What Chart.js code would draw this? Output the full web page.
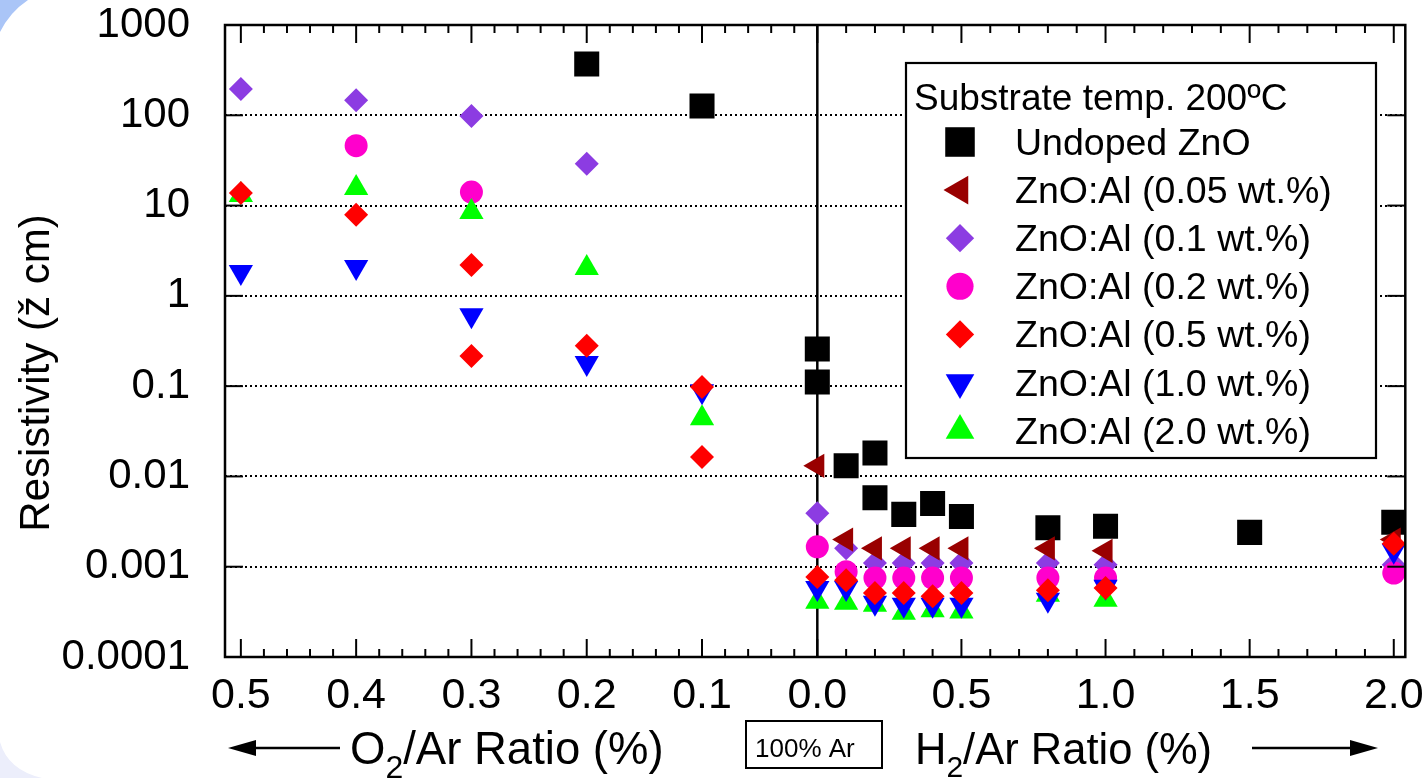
<!DOCTYPE html>
<html>
<head>
<meta charset="utf-8">
<title>Resistivity vs O2/H2 ratio</title>
<script src="https://cdn.jsdelivr.net/npm/chart.js@4.4.1/dist/chart.umd.min.js"></script>
<style>
  html, body { margin: 0; padding: 0; background: #fff; }
  #wrap { width: 1423px; height: 778px; }
</style>
</head>
<body>
<div id="wrap"><canvas id="chart" width="1423" height="778"></canvas></div>
<script>
var FONT = "'Liberation Sans', Arial, Helvetica, sans-serif";

// The O2 side runs leftwards from 0 and is drawn 4x wider than the H2 side
var O2_STRETCH = 4;
function o2Pos(r) { return -O2_STRETCH * r; }
function h2Pos(r) { return r; }

// axis ticks
var o2TickLabels = [0.5, 0.4, 0.3, 0.2, 0.1];
var h2TickLabels = [0.0, 0.5, 1.0, 1.5, 2.0];
var o2MinorStep = 0.02;
var h2MinorStep = 0.1;
var yTickValues = [0.0001, 0.001, 0.01, 0.1, 1, 10, 100, 1000];
var yTickLabels = ['0.0001', '0.001', '0.01', '0.1', '1', '10', '100', '1000'];

// Undoped ZnO
var undopedO2x = [0.2, 0.1, 0.0];
var undopedO2y = [370, 127, 0.258];
var undopedH2x = [0.0, 0.1, 0.2, 0.2, 0.3, 0.4, 0.5, 0.8, 1.0, 1.5, 2.0];
var undopedH2y = [0.111, 0.0131, 0.0182, 0.0058, 0.0038, 0.0050, 0.0036, 0.0027, 0.0028, 0.0024, 0.0031];

// ZnO:Al 0.05 wt.%
var al005O2x = [];
var al005O2y = [];
var al005H2x = [0.0, 0.1, 0.2, 0.3, 0.4, 0.5, 0.8, 1.0, 2.0];
var al005H2y = [0.0131, 0.0020, 0.0016, 0.0016, 0.0016, 0.0016, 0.0016, 0.0015, 0.0020];

// ZnO:Al 0.1 wt.%
var al01O2x = [0.5, 0.4, 0.3, 0.2];
var al01O2y = [195, 147, 98, 29];
var al01H2x = [0.0, 0.1, 0.2, 0.3, 0.4, 0.5, 0.8, 1.0, 2.0];
var al01H2y = [0.0039, 0.0016, 0.0011, 0.0011, 0.0011, 0.0011, 0.0011, 0.00105, 0.00105];

// ZnO:Al 0.2 wt.%
var al02O2x = [0.4, 0.3];
var al02O2y = [46, 14.1];
var al02H2x = [0.0, 0.1, 0.2, 0.3, 0.4, 0.5, 0.8, 1.0, 2.0];
var al02H2y = [0.00166, 0.00088, 0.00075, 0.00075, 0.00075, 0.00075, 0.00075, 0.00075, 0.00085];

// ZnO:Al 0.5 wt.%
var al05O2x = [0.5, 0.4, 0.3, 0.3, 0.2, 0.1, 0.1];
var al05O2y = [13.8, 7.9, 2.2, 0.216, 0.28, 0.098, 0.0164];
var al05H2x = [0.0, 0.1, 0.2, 0.3, 0.4, 0.5, 0.8, 1.0, 2.0];
var al05H2y = [0.00077, 0.00071, 0.00051, 0.00051, 0.00047, 0.00051, 0.00055, 0.00058, 0.0018];

// ZnO:Al 1.0 wt.%
var al10O2x = [0.5, 0.4, 0.3, 0.2, 0.1];
var al10O2y = [1.84, 2.09, 0.61, 0.18, 0.088];
var al10H2x = [0.0, 0.1, 0.2, 0.3, 0.4, 0.5, 0.8, 1.0, 2.0];
var al10H2y = [0.00058, 0.00058, 0.0004, 0.00038, 0.00038, 0.00038, 0.00043, 0.0006, 0.0015];

// ZnO:Al 2.0 wt.%
var al20O2x = [0.5, 0.4, 0.3, 0.2, 0.1];
var al20O2y = [13.1, 15.7, 8.5, 2.04, 0.044];
var al20H2x = [0.0, 0.1, 0.2, 0.3, 0.4, 0.5, 0.8, 1.0];
var al20H2y = [0.00041, 0.0004, 0.00038, 0.00031, 0.00033, 0.00032, 0.00049, 0.00043];

function points(o2x, o2y, h2x, h2y) {
    var pts = [];
    o2x.forEach(function(r, i) { pts.push({ x: o2Pos(r), y: o2y[i] }); });
    h2x.forEach(function(r, i) { pts.push({ x: h2Pos(r), y: h2y[i] }); });
    return pts;
}

function series(label, color, style, rotation, radius, order, data) {
    return {
        label: label,
        data: data,
        pointStyle: style,
        rotation: rotation,
        pointRadius: radius,
        pointHoverRadius: radius,
        backgroundColor: color,
        borderColor: color,
        borderWidth: 0,
        showLine: false,
        order: order
    };
}

// listed in legend order; "order" decides which marker sits on top
var datasets = [
    series('Undoped ZnO', '#000000', 'rect', 0, 17.7, 6, points(undopedO2x, undopedO2y, undopedH2x, undopedH2y)),
    series('ZnO:Al (0.05 wt.%)', '#990000', 'triangle', -90, 14, 4, points(al005O2x, al005O2y, al005H2x, al005H2y)),
    series('ZnO:Al (0.1 wt.%)', '#8c3ce2', 'rectRot', 0, 12, 5, points(al01O2x, al01O2y, al01H2x, al01H2y)),
    series('ZnO:Al (0.2 wt.%)', '#ff00cc', 'circle', 0, 11.5, 3, points(al02O2x, al02O2y, al02H2x, al02H2y)),
    series('ZnO:Al (0.5 wt.%)', '#ff0000', 'rectRot', 0, 12, 0, points(al05O2x, al05O2y, al05H2x, al05H2y)),
    series('ZnO:Al (1.0 wt.%)', '#0000ff', 'triangle', 180, 14, 1, points(al10O2x, al10O2y, al10H2x, al10H2y)),
    series('ZnO:Al (2.0 wt.%)', '#00ff00', 'triangle', 0, 14, 2, points(al20O2x, al20O2y, al20H2x, al20H2y))
];

function marker(ctx, ds, x, y, scale) {
    ctx.save();
    ctx.fillStyle = ds.backgroundColor;
    ctx.strokeStyle = ds.backgroundColor;
    Chart.helpers.drawPoint(ctx, {
        pointStyle: ds.pointStyle,
        rotation: ds.rotation,
        radius: ds.pointRadius * scale,
        borderWidth: 0
    }, x, y);
    ctx.restore();
}

function line(ctx, x1, y1, x2, y2) {
    ctx.beginPath();
    ctx.moveTo(x1, y1);
    ctx.lineTo(x2, y2);
    ctx.stroke();
}

// text with a subscript after the first letter, e.g. O2/Ar
function subText(ctx, x, y, head, sub, tail, size) {
    ctx.font = size + 'px ' + FONT;
    ctx.fillText(head, x, y);
    x += ctx.measureText(head).width;
    ctx.font = Math.round(size * 0.7) + 'px ' + FONT;
    ctx.fillText(sub, x, y + size * 0.3);
    x += ctx.measureText(sub).width;
    ctx.font = size + 'px ' + FONT;
    ctx.fillText(tail, x, y);
}

function arrow(ctx, x1, x2, y) {
    var dir = x2 > x1 ? 1 : -1;
    ctx.lineWidth = 2.5;
    line(ctx, x1, y, x2 - dir * 20, y);
    ctx.beginPath();
    ctx.moveTo(x2, y);
    ctx.lineTo(x2 - dir * 28, y - 8);
    ctx.lineTo(x2 - dir * 28, y + 8);
    ctx.closePath();
    ctx.fill();
}

var decorations = {
    id: 'decorations',
    beforeDraw: function(chart) {
        var ctx = chart.ctx;
        ctx.save();
        // slide corners
        ctx.fillStyle = '#aac5f7';
        ctx.beginPath();
        ctx.moveTo(0, 0);
        ctx.lineTo(28, 0);
        ctx.quadraticCurveTo(10, 12, 0, 32);
        ctx.closePath();
        ctx.fill();
        ctx.fillStyle = '#eceefb';
        ctx.beginPath();
        ctx.moveTo(0, 778);
        ctx.lineTo(0, 742);
        ctx.quadraticCurveTo(8, 770, 42, 778);
        ctx.closePath();
        ctx.fill();
        ctx.restore();
    },
    beforeDatasetsDraw: function(chart) {
        var ctx = chart.ctx, area = chart.chartArea;
        var x0 = chart.scales.x.getPixelForValue(0);
        ctx.save();
        ctx.strokeStyle = '#000';
        ctx.lineWidth = 2.5;
        line(ctx, x0, area.top, x0, area.bottom);
        ctx.restore();
    },
    afterDatasetsDraw: function(chart) {
        var ctx = chart.ctx, area = chart.chartArea;
        var xs = chart.scales.x, ys = chart.scales.y;
        ctx.save();
        ctx.strokeStyle = '#000';
        ctx.fillStyle = '#000';
        ctx.lineCap = 'butt';

        // x ticks on bottom and top, pointing inward
        var majors = [], minors = [];
        o2TickLabels.forEach(function(r) { majors.push(o2Pos(r)); });
        h2TickLabels.forEach(function(r) { majors.push(h2Pos(r)); });
        var i;
        for (i = 1; i * o2MinorStep < 0.5 + 1e-9; i++) {
            if (i % 5) minors.push(o2Pos(i * o2MinorStep));
        }
        for (i = 1; i * h2MinorStep < 2.0 + 1e-9; i++) {
            if (i % 5) minors.push(h2Pos(i * h2MinorStep));
        }
        ctx.lineWidth = 2;
        majors.forEach(function(u) {
            var px = xs.getPixelForValue(u);
            line(ctx, px, area.bottom, px, area.bottom - 18);
            line(ctx, px, area.top, px, area.top + 18);
        });
        minors.forEach(function(u) {
            var px = xs.getPixelForValue(u);
            line(ctx, px, area.bottom, px, area.bottom - 8);
            line(ctx, px, area.top, px, area.top + 8);
        });

        // y ticks on left and right
        yTickValues.forEach(function(val) {
            var py = ys.getPixelForValue(val);
            line(ctx, area.left, py, area.left + 18, py);
            line(ctx, area.right, py, area.right - 18, py);
        });

        // frame
        ctx.lineWidth = 2.5;
        ctx.strokeRect(area.left, area.top, area.right - area.left, area.bottom - area.top);

        // legend box
        var bx = 906, by = 63, bw = 470, bh = 395;
        ctx.fillStyle = '#fff';
        ctx.fillRect(bx, by, bw, bh);
        ctx.lineWidth = 2.2;
        ctx.strokeRect(bx, by, bw, bh);
        ctx.fillStyle = '#000';
        ctx.textBaseline = 'alphabetic';
        ctx.textAlign = 'left';
        ctx.font = '37px ' + FONT;
        ctx.fillText('Substrate temp. 200\u00baC', 914, 110);
        chart.data.datasets.forEach(function(ds, k) {
            var cy = 142 + k * 48.1;
            marker(ctx, ds, 960, cy, 1.18);
            ctx.fillStyle = '#000';
            ctx.font = '37.5px ' + FONT;
            ctx.fillText(ds.label, 1015, cy + 13);
        });
        ctx.restore();
    },
    afterDraw: function(chart) {
        var ctx = chart.ctx;
        ctx.save();
        ctx.fillStyle = '#000';
        ctx.strokeStyle = '#000';
        ctx.textBaseline = 'alphabetic';
        ctx.textAlign = 'left';

        // x axis titles
        arrow(ctx, 340, 228, 748);
        subText(ctx, 350, 764, 'O', '2', '/Ar Ratio (%)', 45.5);
        subText(ctx, 915, 764, 'H', '2', '/Ar Ratio (%)', 43.5);
        arrow(ctx, 1252, 1378, 748);

        ctx.lineWidth = 2;
        ctx.strokeRect(746, 721, 136, 47);
        ctx.font = '26px ' + FONT;
        ctx.fillText('100% Ar', 755, 757);

        // y axis title
        ctx.textAlign = 'center';
        ctx.translate(49, 373);
        ctx.rotate(-Math.PI / 2);
        ctx.font = '42px ' + FONT;
        ctx.fillText('Resistivity (\u017e cm)', 0, 0);
        ctx.restore();
    }
};

var ctx = document.getElementById('chart').getContext('2d');
var chart = new Chart(ctx, {
    type: 'scatter',
    data: { datasets: datasets },
    plugins: [decorations],
    options: {
        responsive: false,
        animation: false,
        events: [],
        layout: { padding: { top: 25, right: 17, left: 0, bottom: 0 } },
        plugins: {
            legend: { display: false },
            tooltip: { enabled: false },
            title: { display: false }
        },
        scales: {
            x: {
                type: 'linear',
                min: -2.055,
                max: 2.04,
                afterBuildTicks: function(scale) {
                    var t = [];
                    o2TickLabels.forEach(function(r) { t.push({ value: o2Pos(r) }); });
                    h2TickLabels.forEach(function(r) { t.push({ value: h2Pos(r) }); });
                    scale.ticks = t;
                },
                afterFit: function(scale) {
                    scale.height = 121;
                    scale.paddingLeft = 0;
                    scale.paddingRight = 0;
                },
                grid: { display: false },
                border: { display: false },
                ticks: {
                    autoSkip: false,
                    maxRotation: 0,
                    minRotation: 0,
                    padding: 5,
                    color: '#000',
                    font: { family: FONT, size: 43 },
                    callback: function(value) {
                        return value < 0 ? (-value / O2_STRETCH).toFixed(1) : value.toFixed(1);
                    }
                }
            },
            y: {
                type: 'logarithmic',
                min: 0.0001,
                max: 1000,
                afterBuildTicks: function(scale) {
                    scale.ticks = yTickValues.map(function(v) { return { value: v }; });
                },
                afterFit: function(scale) {
                    scale.width = 225;
                    scale.paddingTop = 0;
                    scale.paddingBottom = 0;
                },
                grid: {
                    drawTicks: false,
                    lineWidth: 2,
                    color: function(c) {
                        var v = c.tick ? c.tick.value : 0;
                        return (v <= 0.0001 || v >= 1000) ? 'rgba(0,0,0,0)' : '#000';
                    }
                },
                border: { display: false, dash: [2, 3] },
                ticks: {
                    padding: 35,
                    color: '#000',
                    font: { family: FONT, size: 42 },
                    callback: function(value, index) { return yTickLabels[index]; }
                }
            }
        }
    }
});
</script>
</body>
</html>
